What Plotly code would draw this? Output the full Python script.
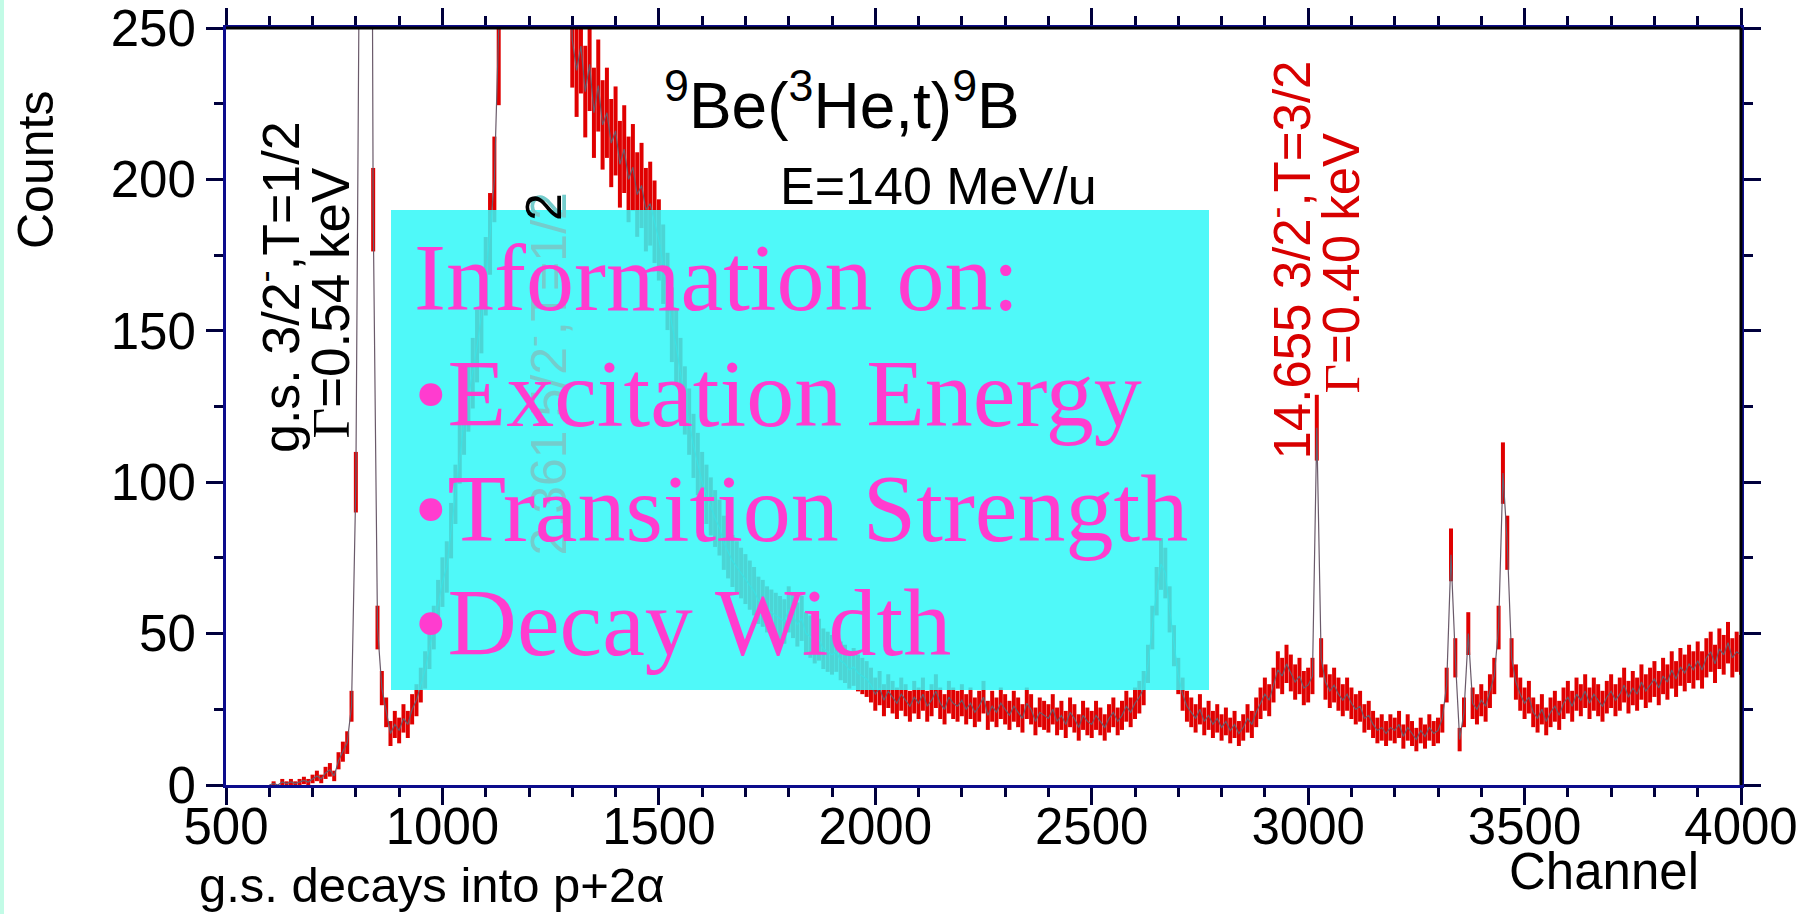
import plotly.graph_objects as go

# ---------------- data ----------------
channel_first = 600
channel_last = 4000
channel_step = 10

# counts per 10-channel step, one row per 100 channels
r0600 = [0, 0.5, 0, 1, 0.5, 1, 0.5, 1, 1.5, 1]
r0700 = [2, 3, 2, 4, 5, 3, 8, 11, 14, 26]
r0800 = [100, 320, 700, 600, 190, 52, 32, 24, 17, 20]
r0900 = [18, 22, 20, 25, 28, 33, 38, 45, 52, 60]
r1000 = [67, 72, 84, 96, 110, 120, 128, 136, 145, 155]
r1100 = [168, 182, 200, 240, 300, 420, 650, 900, 1100, 1200]
r1200 = [1150, 1000, 850, 700, 600, 520, 450, 390, 340, 290]
r1300 = [246, 236, 244, 229, 238, 222, 231, 218, 222, 212]
r1400 = [216, 205, 210, 200, 204, 195, 198, 190, 192, 186]
r1500 = [180, 172, 163, 152, 145, 136, 127, 120, 112, 106]
r1600 = [100, 96, 92, 88, 85, 80, 77, 74, 72, 70]
r1700 = [68, 66, 64, 61, 60, 58, 57, 56, 55, 54]
r1800 = [58, 56, 53, 55, 50, 49, 47, 48, 45, 44]
r1900 = [43, 44, 41, 40, 38, 39, 37, 36, 35, 33]
r2000 = [30, 32, 28, 31, 29, 27, 30, 28, 26, 29]
r2100 = [27, 30, 26, 28, 31, 27, 25, 29, 27, 26]
r2200 = [28, 25, 27, 24, 26, 29, 23, 26, 24, 27]
r2300 = [25, 23, 26, 24, 22, 27, 25, 21, 24, 23]
r2400 = [22, 25, 21, 23, 20, 24, 22, 19, 23, 21]
r2500 = [20, 23, 21, 19, 22, 24, 21, 23, 26, 24]
r2600 = [27, 29, 32, 40, 52, 64, 73, 70, 58, 46]
r2700 = [36, 30, 26, 24, 22, 25, 21, 23, 20, 22]
r2800 = [19, 21, 18, 20, 17, 19, 22, 20, 24, 27]
r2900 = [30, 28, 33, 38, 36, 40, 37, 34, 36, 32]
r3000 = [33, 36, 118, 42, 34, 31, 33, 30, 28, 30]
r3100 = [27, 25, 26, 22, 23, 20, 18, 19, 17, 19]
r3200 = [18, 20, 16, 19, 17, 15, 18, 16, 19, 17]
r3300 = [18, 22, 33, 76, 42, 15, 24, 50, 27, 25]
r3400 = [28, 26, 31, 36, 52, 103, 80, 42, 34, 30]
r3500 = [27, 29, 24, 22, 25, 21, 24, 26, 23, 27]
r3600 = [29, 26, 30, 28, 31, 27, 30, 28, 26, 29]
r3700 = [31, 28, 30, 33, 29, 32, 30, 34, 31, 33]
r3800 = [35, 32, 36, 34, 38, 35, 39, 37, 40, 38]
r3900 = [41, 38, 42, 44, 40, 45, 43, 47, 42, 44]
r4000 = [43]

counts = (r0600 + r0700 + r0800 + r0900 + r1000 + r1100 + r1200 + r1300 + r1400
          + r1500 + r1600 + r1700 + r1800 + r1900 + r2000 + r2100 + r2200 + r2300
          + r2400 + r2500 + r2600 + r2700 + r2800 + r2900 + r3000 + r3100 + r3200
          + r3300 + r3400 + r3500 + r3600 + r3700 + r3800 + r3900 + r4000)
channels = list(range(channel_first, channel_last + 1, channel_step))

x_ticks = [500, 1000, 1500, 2000, 2500, 3000, 3500, 4000]
y_ticks = [0, 50, 100, 150, 200, 250]

title_text = "<sup>9</sup>Be(<sup>3</sup>He,t)<sup>9</sup>B"
energy_text = "E=140 MeV/u"
gs_line1 = "g.s. 3/2<sup>-</sup>,T=1/2"
gs_line2 = "<span style='font-family:Liberation Serif'>Γ</span>=0.54 keV"
s2_line1 = "2.361 5/2<sup>-</sup>,T=1/2"
s2_last = "2"
t32_line1 = "14.655 3/2<sup>-</sup>,T=3/2"
t32_line2 = "<span style='font-family:Liberation Serif'>Γ</span>=0.40 keV"
box_lines = ["Information on:", "•Excitation Energy", "•Transition Strength", "•Decay Width"]

# ---------------- layout geometry (pixels) ----------------
W, H = 1813, 914
L, R, T, B = 226, 72, 28, 129
PW, PH = W - L - R, H - T - B
BOTTOM = T + PH


def xp(px):
    return (px - L) / PW


def yp(py):
    return (BOTTOM - py) / PH


SANS = "Arial, Liberation Sans, sans-serif"
SERIF = "Times New Roman, Liberation Serif, serif"
AXBLUE = "#0c0c8c"
TICKC = "#00003c"
RED = "#d80000"
MAGENTA = "#ff3ccf"

fig = go.Figure()
fig.add_trace(go.Scatter(
    x=channels, y=counts, mode="lines",
    line=dict(color="#6a5a6a", width=1.2),
    error_y=dict(type="sqrt", color="#e00000", thickness=4, width=0),
    showlegend=False, hoverinfo="skip",
))

axis_common = dict(
    showline=True, linewidth=3, linecolor=AXBLUE, mirror="allticks",
    ticks="outside", ticklen=17, tickwidth=3, tickcolor=TICKC,
    showgrid=False, zeroline=False, automargin=False, ticklabeloverflow="allow",
    tickfont=dict(family=SANS, size=51, color="black"),
)
fig.update_xaxes(range=[500, 4000], tickvals=x_ticks, ticklabelstandoff=-22,
                 minor=dict(dtick=100, tick0=500, ticks="outside", ticklen=9, tickwidth=3, tickcolor=TICKC),
                 **axis_common)
fig.update_yaxes(range=[0, 250], tickvals=y_ticks,
                 minor=dict(dtick=25, tick0=0, ticks="outside", ticklen=9, tickwidth=3, tickcolor=TICKC),
                 **axis_common)

shapes = [
    # cyan information box (above the data)
    dict(type="rect", xref="paper", yref="paper", x0=xp(391), x1=xp(1209), y0=yp(690), y1=yp(210),
         fillcolor="rgb(50,248,248)", opacity=0.86, line=dict(width=0), layer="above"),
    # black top and right frame lines
    dict(type="line", xref="paper", yref="paper", x0=0, x1=1, y0=1, y1=1,
         line=dict(color="black", width=3), layer="above"),
    dict(type="line", xref="paper", yref="paper", x0=1, x1=1, y0=0, y1=1,
         line=dict(color="black", width=3), layer="above"),
    # mint strip at left edge of the slide
    dict(type="rect", xref="paper", yref="paper", x0=xp(0), x1=xp(4), y0=yp(H), y1=yp(0),
         fillcolor="#c2fbe6", line=dict(width=0), layer="below"),
]

ann = []


def text(t, x, y, size, color="black", family=SANS, xanchor="left", yanchor="bottom", angle=0):
    ann.append(dict(text=t, x=xp(x), y=yp(y), xref="paper", yref="paper", showarrow=False,
                    xanchor=xanchor, yanchor=yanchor, textangle=angle,
                    font=dict(family=family, size=size, color=color)))


# title and energy
text(title_text, 662, 130 + 14, 64)
text(energy_text, 778, 205 + 12, 52)
# axis titles
text("Counts", 36, 170, 50, xanchor="center", yanchor="middle", angle=-90)
text("Channel", 1507, 890 + 12, 51)
text("g.s. decays into p+2α", 197, 903 + 11, 49)
# rotated level labels
text(gs_line1, 277, 119, 52, xanchor="center", yanchor="top", angle=-90)
text(gs_line2, 330, 166, 53, xanchor="center", yanchor="top", angle=-90)
text(s2_line1, 544, 191, 50, color="#74cccc", xanchor="center", yanchor="top", angle=-90)
text(s2_last, 544, 191, 50, color="black", xanchor="center", yanchor="top", angle=-90)
text(t32_line1, 1288, 59, 51, color=RED, xanchor="center", yanchor="top", angle=-90)
text(t32_line2, 1341, 131, 51, color=RED, xanchor="center", yanchor="top", angle=-90)
# information box text
for line, base in zip(box_lines, [312, 428, 543, 657]):
    text(line, 412, base + 21, 96, color=MAGENTA, family=SERIF)

fig.update_layout(
    width=W, height=H,
    margin=dict(l=L, r=R, t=T, b=B, pad=0),
    paper_bgcolor="white", plot_bgcolor="white",
    shapes=shapes, annotations=ann, showlegend=False,
)

fig.write_html("out.html")
